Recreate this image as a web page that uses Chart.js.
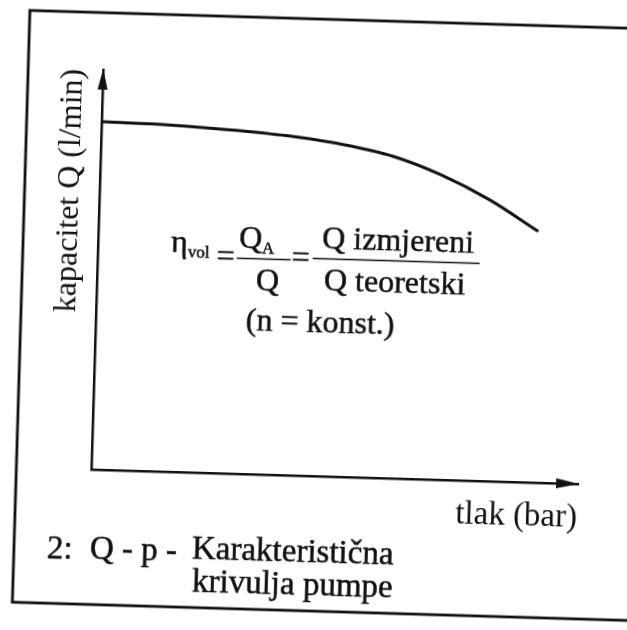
<!DOCTYPE html>
<html>
<head>
<meta charset="utf-8">
<script src="https://cdn.jsdelivr.net/npm/chart.js@4.4.1/dist/chart.umd.min.js"></script>
<style>
    html, body { margin: 0; padding: 0; width: 627px; height: 630px; overflow: hidden; background: #fff; }
    #wrap { position: absolute; left: -30px; top: -30px; width: 687px; height: 690px; transform: rotate(1.7deg); }
</style>
</head>
<body>
<div id="wrap"><canvas id="graph"></canvas></div>
<script>
// Q-p curve of the pump: pressure (bar) against delivered capacity (l/min)
const pressure = [0, 1, 2, 3, 4, 5, 6, 7, 8, 9.03]
const capacity = [8.7, 8.68, 8.63, 8.56, 8.46, 8.3, 8.05, 7.62, 7.04, 6.28]

const xTitle = 'tlak (bar)'
const yTitle = 'kapacitet Q (l/min)'

const ink = '#111111'
const serif = '"Liberation Serif", "DejaVu Serif", serif'

// writes a line of text slightly heavier than the plain canvas glyphs
function ink_text(ctx, str, x, y) {
    ctx.fillText(str, x, y)
    ctx.strokeText(str, x, y)
}

const sheet = {
    id: 'sheet',
    beforeDraw(chart) {
        const ctx = chart.ctx
        ctx.save()
        ctx.strokeStyle = ink
        ctx.lineWidth = 2.8
        ctx.strokeRect(51, 49, 621, 592)
        ctx.restore()
    },
    afterDraw(chart) {
        const ctx = chart.ctx
        const a = chart.chartArea
        ctx.save()
        ctx.fillStyle = ink
        ctx.strokeStyle = ink

        // arrow heads on both axes
        ctx.beginPath()
        ctx.moveTo(a.left, a.top - 1)
        ctx.lineTo(a.left - 5, a.top + 20)
        ctx.lineTo(a.left + 5, a.top + 20)
        ctx.fill()
        ctx.beginPath()
        ctx.moveTo(a.right + 1, a.bottom)
        ctx.lineTo(a.right - 22, a.bottom - 5)
        ctx.lineTo(a.right - 22, a.bottom + 5)
        ctx.fill()

        // volumetric efficiency
        ctx.lineWidth = 0.5
        ctx.textBaseline = 'alphabetic'
        ctx.font = '32px ' + serif
        ink_text(ctx, 'η', 199, 286)
        ink_text(ctx, 'Q', 267, 280)
        ink_text(ctx, 'Q', 285, 322)
        ink_text(ctx, 'Q izmjereni', 350, 278)
        ink_text(ctx, 'Q teoretski', 353, 320)
        ink_text(ctx, '(n = konst.)', 276, 362)
        ctx.textAlign = 'center'
        ink_text(ctx, '=', 254, 299)
        ink_text(ctx, '=', 329, 298)
        ctx.textAlign = 'left'
        ctx.font = '17px ' + serif
        ink_text(ctx, 'vol', 216, 291)
        ink_text(ctx, 'A', 290, 285)

        ctx.lineWidth = 1.6
        ctx.beginPath()
        ctx.moveTo(265, 290.5)
        ctx.lineTo(319, 290.5)
        ctx.moveTo(341, 288.5)
        ctx.lineTo(508, 288.5)
        ctx.stroke()

        // caption
        ctx.lineWidth = 0.5
        ctx.font = '33px ' + serif
        ink_text(ctx, '2:', 84, 596)
        ink_text(ctx, 'Q - p -', 127, 595)
        ink_text(ctx, 'Karakteristična', 229, 592)
        ink_text(ctx, 'krivulja pumpe', 230, 625)
        ctx.restore()
    }
}

let ctx = document.getElementById('graph').getContext('2d')
new Chart(ctx, {
    type: 'line',
    data: {
        datasets: [{
            data: pressure.map((p, i) => ({ x: p, y: capacity[i] })),
            borderColor: ink,
            borderWidth: 3,
            pointRadius: 0,
            cubicInterpolationMode: 'monotone',
            fill: false
        }]
    },
    options: {
        responsive: true,
        maintainAspectRatio: false,
        devicePixelRatio: 1,
        animation: false,
        events: [],
        layout: {
            padding: { left: 77, top: 106, right: 74, bottom: 130 }
        },
        plugins: {
            legend: { display: false },
            tooltip: { enabled: false }
        },
        scales: {
            x: {
                type: 'linear',
                min: 0,
                max: 10,
                ticks: { display: false },
                grid: { display: false },
                border: { display: true, color: ink, width: 2.5 },
                title: {
                    display: true,
                    text: xTitle,
                    align: 'end',
                    color: ink,
                    padding: 0,
                    font: { family: serif, size: 33 }
                },
                afterFit: (scale) => { scale.height = 54 }
            },
            y: {
                type: 'linear',
                min: 0,
                max: 10,
                ticks: { display: false },
                grid: { display: false },
                border: { display: true, color: ink, width: 2.5 },
                title: {
                    display: true,
                    text: yTitle,
                    align: 'end',
                    color: ink,
                    padding: 0,
                    font: { family: serif, size: 32 }
                },
                afterFit: (scale) => { scale.width = 49 }
            }
        }
    },
    plugins: [sheet]
});
</script>
</body>
</html>
